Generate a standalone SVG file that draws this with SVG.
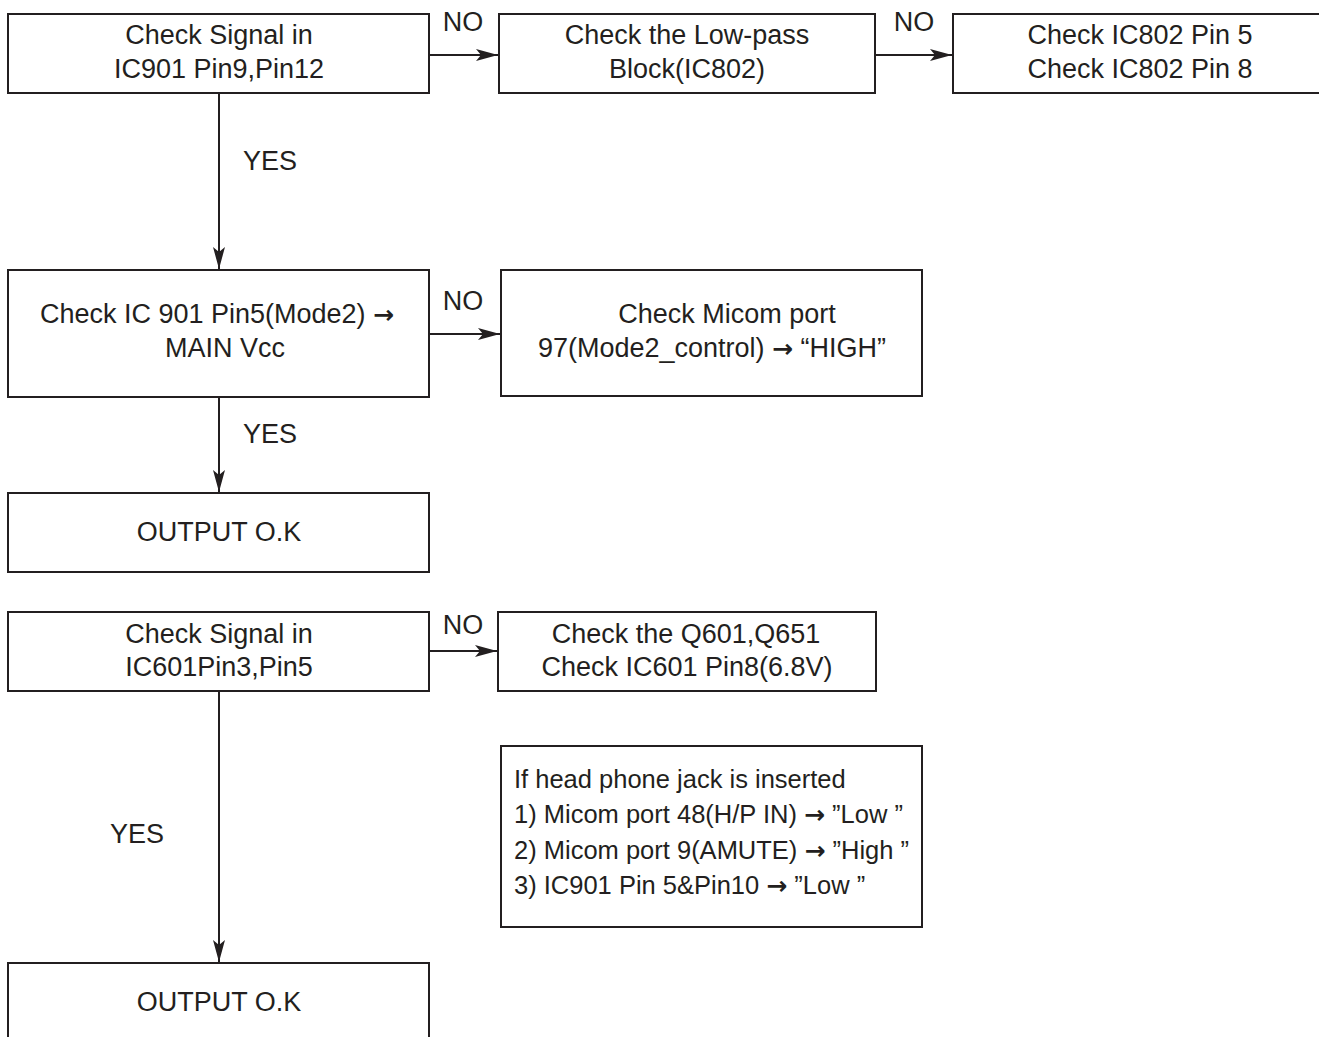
<svg xmlns="http://www.w3.org/2000/svg" width="1319" height="1037" viewBox="0 0 1319 1037">
<style>
.box{fill:#fff;stroke:#231f20;stroke-width:2}
.t{font-family:"Liberation Sans",Arial,sans-serif;font-size:27px;fill:#231f20;text-anchor:middle}
.n{font-size:25.5px;text-anchor:start}
.a{font-family:"DejaVu Sans",sans-serif;font-size:25px;font-weight:bold}
.c{stroke:#231f20;stroke-width:2;fill:none}
</style>
<defs>
<marker id="ah" viewBox="0 0 22 12" refX="22" refY="6" markerWidth="22" markerHeight="12" markerUnits="userSpaceOnUse" orient="auto">
<path d="M0,0 L22,6 L0,12 L5,6 Z" fill="#231f20"/>
</marker>
</defs>
<rect width="1319" height="1037" fill="#fff"/>
<g id="n1"><rect class="box" x="8" y="14" width="421" height="79"/>
<text class="t" x="219" y="44">Check Signal in</text><text class="t" x="219" y="78">IC901 Pin9,Pin12</text></g>
<g id="n2"><rect class="box" x="499" y="14" width="376" height="79"/>
<text class="t" x="687" y="44">Check the Low-pass</text><text class="t" x="687" y="78">Block(IC802)</text></g>
<g id="n3"><rect class="box" x="953" y="14" width="380" height="79"/>
<text class="t" x="1140" y="44">Check IC802 Pin 5</text><text class="t" x="1140" y="78">Check IC802 Pin 8</text></g>
<g id="n4"><rect class="box" x="8" y="270" width="421" height="127"/>
<text class="t" x="217" y="323">Check IC 901 Pin5(Mode2) <tspan class="a">→</tspan></text><text class="t" x="225" y="357">MAIN Vcc</text></g>
<g id="n5"><rect class="box" x="501" y="270" width="421" height="126"/>
<text class="t" x="727" y="323">Check Micom port</text><text class="t" x="712" y="357">97(Mode2_control) <tspan class="a">→</tspan> “HIGH”</text></g>
<g id="n6"><rect class="box" x="8" y="493" width="421" height="79"/>
<text class="t" x="219" y="541">OUTPUT O.K</text></g>
<g id="n7"><rect class="box" x="8" y="612" width="421" height="79"/>
<text class="t" x="219" y="643">Check Signal in</text><text class="t" x="219" y="676">IC601Pin3,Pin5</text></g>
<g id="n8"><rect class="box" x="498" y="612" width="378" height="79"/>
<text class="t" x="686" y="643">Check the Q601,Q651</text><text class="t" x="687" y="676">Check IC601 Pin8(6.8V)</text></g>
<g id="n9"><rect class="box" x="501" y="746" width="421" height="181"/>
<text class="t n" x="514" y="788">If head phone jack is inserted</text>
<text class="t n" x="514" y="823">1) Micom port 48(H/P IN) <tspan class="a">→</tspan> ”Low ”</text>
<text class="t n" x="514" y="859">2) Micom port 9(AMUTE) <tspan class="a">→</tspan> ”High ”</text>
<text class="t n" x="514" y="894">3) IC901 Pin 5&amp;Pin10 <tspan class="a">→</tspan> ”Low ”</text></g>
<g id="n10"><rect class="box" x="8" y="963" width="421" height="100"/>
<text class="t" x="219" y="1011">OUTPUT O.K</text></g>
<g id="connectors">
<line class="c" x1="430" y1="55" x2="498" y2="55" marker-end="url(#ah)"/>
<line class="c" x1="876" y1="55" x2="952" y2="55" marker-end="url(#ah)"/>
<line class="c" x1="219" y1="93" x2="219" y2="269" marker-end="url(#ah)"/>
<line class="c" x1="430" y1="334" x2="500" y2="334" marker-end="url(#ah)"/>
<line class="c" x1="219" y1="397" x2="219" y2="492" marker-end="url(#ah)"/>
<line class="c" x1="430" y1="651" x2="497" y2="651" marker-end="url(#ah)"/>
<line class="c" x1="219" y1="691" x2="219" y2="962" marker-end="url(#ah)"/>
<text class="t" x="463" y="31">NO</text>
<text class="t" x="914" y="31">NO</text>
<text class="t" x="463" y="310">NO</text>
<text class="t" x="463" y="634">NO</text>
<text class="t" x="270" y="170">YES</text>
<text class="t" x="270" y="443">YES</text>
<text class="t" x="137" y="843">YES</text>
</g>
</svg>
